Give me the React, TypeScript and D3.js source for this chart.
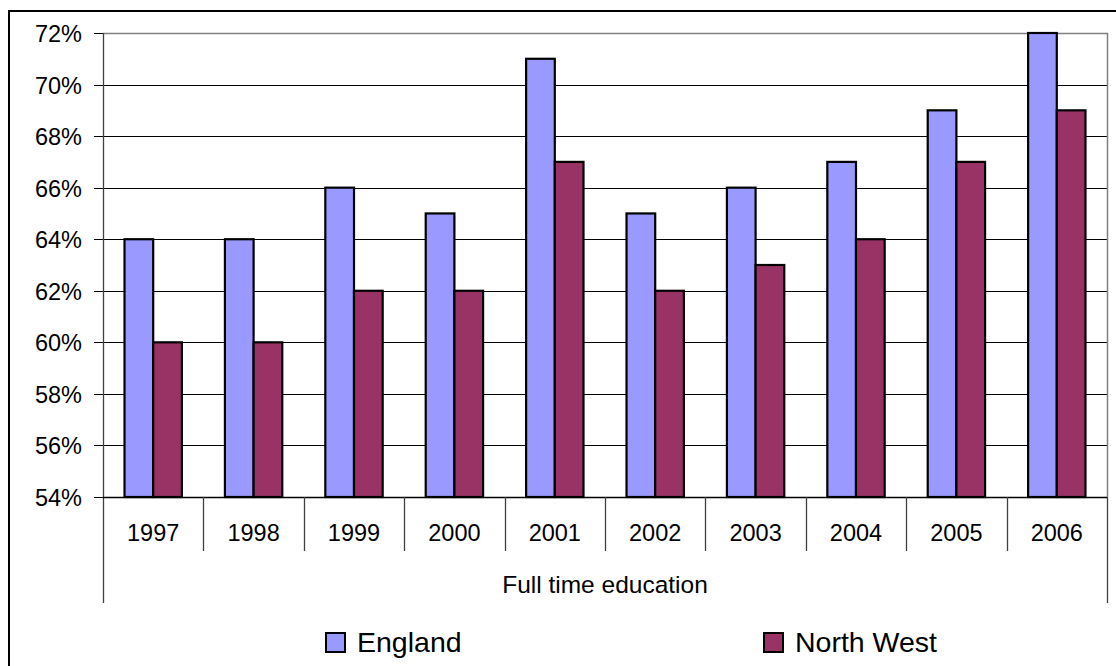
import React, { useRef, useEffect } from 'react';
import * as d3 from 'd3';

const years = ['1997', '1998', '1999', '2000', '2001', '2002', '2003', '2004', '2005', '2006'];
const england = [64, 64, 66, 65, 71, 65, 66, 67, 69, 72];
const northWest = [60, 60, 62, 62, 67, 62, 63, 64, 67, 69];
const seriesNames = ['England', 'North West'];
const yTicks = [54, 56, 58, 60, 62, 64, 66, 68, 70, 72];
const groupLabel = 'Full time education';

const WIDTH = 1116;
const HEIGHT = 666;
const FONT = '"Liberation Sans", Arial, sans-serif';

const App: React.FC = () => {
  const svgRef = useRef<SVGSVGElement>(null);

  useEffect(() => {
    if (!svgRef.current) return;
    const svg = d3.select(svgRef.current);
    svg.selectAll('*').remove();

    const plot = { left: 103, right: 1107, top: 33, bottom: 497 };

    // Background and outer frame (runs off the right and bottom edge)
    svg.append('rect').attr('width', WIDTH).attr('height', HEIGHT).attr('fill', '#fff');
    svg
      .append('rect')
      .attr('x', 9)
      .attr('y', 11)
      .attr('width', 1200)
      .attr('height', 800)
      .attr('fill', 'none')
      .attr('stroke', '#000')
      .attr('stroke-width', 2);

    const x = d3.scaleBand<string>().domain(years).range([plot.left, plot.right]);
    const y = d3.scaleLinear().domain([54, 72]).range([plot.bottom, plot.top]);

    const barW = x.bandwidth() / 3.5;
    const series = [
      { name: seriesNames[0], values: england, color: '#9999ff' },
      { name: seriesNames[1], values: northWest, color: '#993366' },
    ];

    // Grid lines
    svg
      .selectAll('.grid')
      .data(yTicks.slice(1, -1))
      .enter()
      .append('line')
      .attr('x1', plot.left)
      .attr('x2', plot.right)
      .attr('y1', d => Math.round(y(d)) + 0.5)
      .attr('y2', d => Math.round(y(d)) + 0.5)
      .attr('stroke', '#000')
      .attr('stroke-width', 1);

    // Plot border (top + right)
    svg
      .append('path')
      .attr('d', `M${plot.left},${plot.top + 0.5}H${plot.right + 0.5}V${plot.bottom}`)
      .attr('fill', 'none')
      .attr('stroke', '#808080')
      .attr('stroke-width', 1.5);

    // Bars
    series.forEach((s, si) => {
      svg
        .selectAll(`.bar-${si}`)
        .data(s.values)
        .enter()
        .append('rect')
        .attr('x', (d, i) => (x(years[i]) as number) + x.bandwidth() / 2 - barW + si * barW)
        .attr('y', d => y(d))
        .attr('width', barW)
        .attr('height', d => plot.bottom - y(d))
        .attr('fill', s.color)
        .attr('stroke', '#000')
        .attr('stroke-width', 2.2);
    });

    // Y axis
    svg
      .append('line')
      .attr('x1', plot.left + 0.5)
      .attr('x2', plot.left + 0.5)
      .attr('y1', plot.top)
      .attr('y2', 603)
      .attr('stroke', '#404040')
      .attr('stroke-width', 1.3);
    yTicks.forEach(t => {
      const ty = Math.round(y(t)) + 0.5;
      svg
        .append('line')
        .attr('x1', 94)
        .attr('x2', plot.left)
        .attr('y1', ty)
        .attr('y2', ty)
        .attr('stroke', '#000');
      svg
        .append('text')
        .attr('x', 82)
        .attr('y', ty)
        .attr('dy', '0.35em')
        .attr('text-anchor', 'end')
        .attr('font-family', FONT)
        .attr('font-size', 23.5)
        .attr('fill', '#000')
        .text(`${t}%`);
    });

    // X axis
    svg
      .append('line')
      .attr('x1', plot.left)
      .attr('x2', plot.right)
      .attr('y1', plot.bottom + 0.5)
      .attr('y2', plot.bottom + 0.5)
      .attr('stroke', '#000')
      .attr('stroke-width', 1.3);
    years.forEach((yr, i) => {
      const bx = Math.round(x(yr) as number) + 0.5;
      if (i > 0) {
        svg
          .append('line')
          .attr('x1', bx)
          .attr('x2', bx)
          .attr('y1', plot.bottom)
          .attr('y2', 551)
          .attr('stroke', '#404040')
          .attr('stroke-width', 1.3);
      }
      svg
        .append('text')
        .attr('x', (x(yr) as number) + x.bandwidth() / 2)
        .attr('y', 541)
        .attr('text-anchor', 'middle')
        .attr('font-family', FONT)
        .attr('font-size', 23.5)
        .attr('fill', '#000')
        .text(yr);
    });
    svg
      .append('line')
      .attr('x1', plot.right + 0.5)
      .attr('x2', plot.right + 0.5)
      .attr('y1', plot.bottom)
      .attr('y2', 603)
      .attr('stroke', '#404040')
      .attr('stroke-width', 1.3);
    svg
      .append('text')
      .attr('x', (plot.left + plot.right) / 2)
      .attr('y', 593)
      .attr('text-anchor', 'middle')
      .attr('font-family', FONT)
      .attr('font-size', 24.5)
      .attr('fill', '#000')
      .text(groupLabel);

    // Legend
    const legendX = [326, 764];
    series.forEach((s, si) => {
      svg
        .append('rect')
        .attr('x', legendX[si])
        .attr('y', 633)
        .attr('width', 19)
        .attr('height', 19)
        .attr('fill', s.color)
        .attr('stroke', '#000')
        .attr('stroke-width', 2);
      svg
        .append('text')
        .attr('x', legendX[si] + 31)
        .attr('y', 652)
        .attr('font-family', FONT)
        .attr('font-size', 28.5)
        .attr('fill', '#000')
        .text(s.name);
    });
  }, []);

  return (
    <svg
      ref={svgRef}
      width={WIDTH}
      height={HEIGHT}
      style={{ position: 'absolute', left: 0, top: 0, display: 'block' }}
    />
  );
};

export default App;
